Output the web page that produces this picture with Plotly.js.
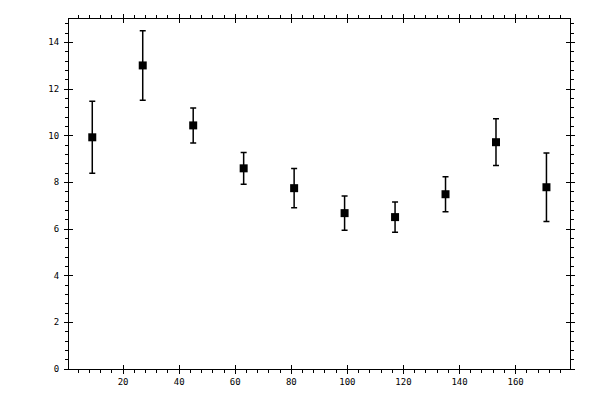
<!DOCTYPE html>
<html>
<head>
<meta charset="utf-8">
<script src="https://cdn.plot.ly/plotly-3.0.1.min.js"></script>
<style>
  html, body { margin: 0; padding: 0; background: #fff; }
  #chart { width: 600px; height: 400px; }
</style>
</head>
<body>
<div id="chart"></div>
<script>
// -----------------------------
// Data
// -----------------------------
const xVals = [9, 27, 45, 63, 81, 99, 117, 135, 153, 171];
const yVals = [9.93, 13.01, 10.44, 8.60, 7.75, 6.68, 6.51, 7.49, 9.72, 7.79];
const yErr = [1.54, 1.49, 0.75, 0.68, 0.84, 0.73, 0.65, 0.75, 1.0, 1.47];

const tickFont = { family: "DejaVu Sans Mono, monospace", size: 9, color: "#000" };

// main trace: squares + symmetric error bars
const points = {
  type: "scatter",
  mode: "markers",
  x: xVals,
  y: yVals,
  marker: { symbol: "square", size: 8, color: "#000" },
  error_y: { type: "data", array: yErr, visible: true, color: "#000", thickness: 1.5, width: 3 },
  hoverinfo: "x+y",
  showlegend: false
};

// invisible copy on overlay axes, only there so the inward tick set gets drawn
const ghost = {
  type: "scatter",
  mode: "markers",
  x: xVals,
  y: yVals,
  xaxis: "x2",
  yaxis: "y2",
  marker: { opacity: 0 },
  hoverinfo: "skip",
  showlegend: false
};

const xRange = [0.7, 179.4];
const yRange = [0, 15];

const layout = {
  width: 600,
  height: 400,
  paper_bgcolor: "#fff",
  plot_bgcolor: "#fff",
  margin: { l: 69, r: 30, t: 19, b: 31 },
  showlegend: false,
  xaxis: {
    range: xRange,
    tick0: 0,
    dtick: 20,
    ticks: "outside",
    ticklen: 4,
    tickwidth: 1,
    tickcolor: "#000",
    showline: true,
    linecolor: "#000",
    linewidth: 1,
    mirror: "allticks",
    showgrid: false,
    zeroline: false,
    tickfont: tickFont,
    minor: { dtick: 4, tick0: 0, ticks: "outside", ticklen: 3, tickcolor: "#000", showgrid: false }
  },
  yaxis: {
    range: yRange,
    tick0: 0,
    dtick: 2,
    ticks: "outside",
    ticklen: 4,
    tickwidth: 1,
    tickcolor: "#000",
    showline: true,
    linecolor: "#000",
    linewidth: 1,
    mirror: "allticks",
    showgrid: false,
    zeroline: false,
    tickfont: tickFont,
    ticklabelstandoff: 3,
    minor: { dtick: 0.4, tick0: 0, ticks: "outside", ticklen: 3, tickcolor: "#000", showgrid: false }
  },
  // overlay axes: major ticks pointing inward, so majors cross the frame
  xaxis2: {
    overlaying: "x",
    matches: "x",
    range: xRange,
    tick0: 0,
    dtick: 20,
    ticks: "inside",
    ticklen: 4,
    tickcolor: "#000",
    mirror: "allticks",
    showline: false,
    showgrid: false,
    zeroline: false,
    showticklabels: false
  },
  yaxis2: {
    overlaying: "y",
    matches: "y",
    range: yRange,
    tick0: 0,
    dtick: 2,
    ticks: "inside",
    ticklen: 4,
    tickcolor: "#000",
    mirror: "allticks",
    showline: false,
    showgrid: false,
    zeroline: false,
    showticklabels: false
  }
};

Plotly.newPlot("chart", [points, ghost], layout, { displayModeBar: false, staticPlot: true });
</script>
</body>
</html>
